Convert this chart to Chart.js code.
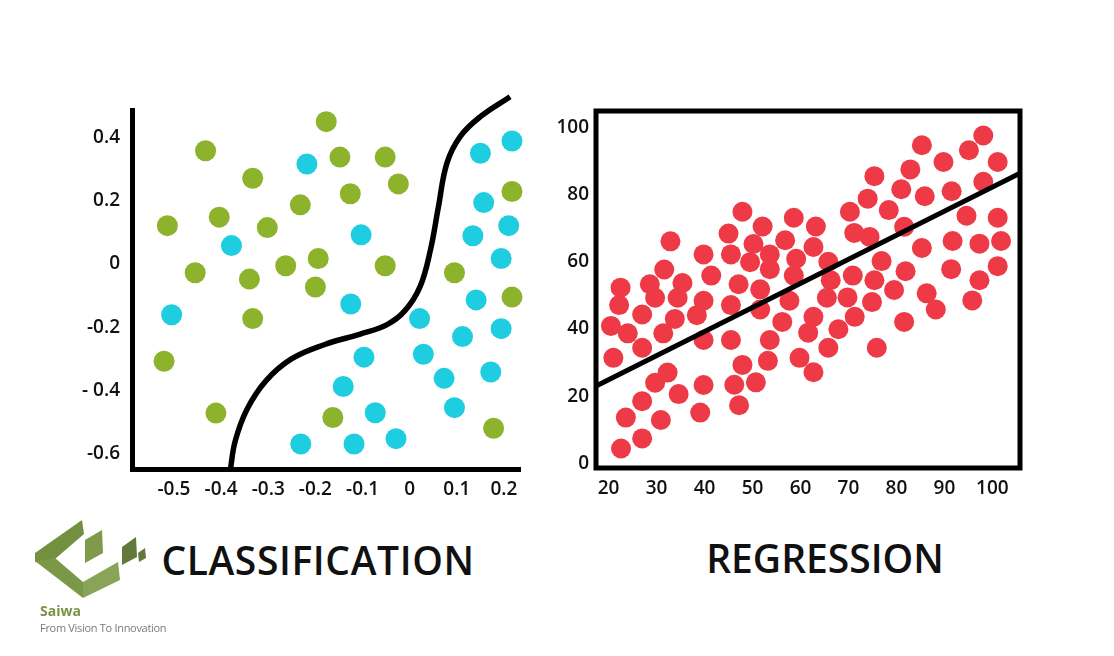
<!DOCTYPE html>
<html><head><meta charset="utf-8">
<script src="https://cdn.jsdelivr.net/npm/chart.js@4.4.1/dist/chart.umd.min.js"></script>
<style>
html,body{margin:0;padding:0;background:#fff;width:1114px;height:656px;overflow:hidden;font-family:'Open Sans',sans-serif;}
#c1{position:absolute;left:0;top:0;}
#c2{position:absolute;left:545px;top:0;}
.title{position:absolute;width:400px;text-align:center;font-size:39px;font-weight:600;line-height:39px;color:#111;white-space:nowrap;}
#logo{position:absolute;left:0;top:500px;}
#brand{position:absolute;left:40px;top:603px;font-size:14px;font-weight:700;color:#7b9444;line-height:16px;}
#tag{position:absolute;left:40px;top:621px;font-size:11px;font-weight:400;color:#7a7a7a;line-height:13px;letter-spacing:-0.3px;}
</style></head><body>
<canvas id="c1" width="545" height="520"></canvas>
<canvas id="c2" width="569" height="520"></canvas>
<div class="title" style="left:118px;top:540px;letter-spacing:0.6px;">CLASSIFICATION</div>
<div class="title" style="left:625px;top:538px;">REGRESSION</div>
<svg id="logo" width="160" height="100" viewBox="0 500 160 100">
  <polygon points="35,553 82,520 84,534 55,559 35,562" fill="#738f40"/>
  <polygon points="35,561 55,558 83,582 83,598" fill="#7b9748"/>
  <polygon points="83,582 118,562 120,580 83,598" fill="#89a357"/>
  <polygon points="85,540 102,530 103,553 85,563" fill="#7e9a4a"/>
  <polygon points="122,547 136,537 137,557 122,565" fill="#63793a"/>
  <polygon points="138,553 145,548 146,558 139,562" fill="#63793a"/>
</svg>
<div id="brand">Saiwa</div>
<div id="tag">From Vision To Innovation</div>
<script>
// ---------- Classification data ----------
const clsGreenX = [-0.177,-0.433,-0.333,-0.148,-0.052,-0.024,-0.126,-0.232,-0.514,-0.404,-0.302,-0.455,-0.340,-0.263,-0.194,-0.200,-0.052,-0.333,-0.521,-0.411,-0.163,0.095,0.217,0.217,0.178];
const clsGreenY = [0.450,0.358,0.271,0.338,0.338,0.253,0.222,0.187,0.121,0.148,0.115,-0.028,-0.048,-0.006,0.017,-0.073,-0.006,-0.173,-0.308,-0.472,-0.486,-0.028,0.229,-0.105,-0.520];
const clsCyanX = [-0.218,-0.378,-0.103,-0.505,-0.125,0.150,0.217,0.157,0.210,0.134,0.194,0.141,0.021,0.194,0.112,-0.097,0.029,0.073,0.172,-0.141,-0.073,0.095,-0.231,-0.118,-0.029];
const clsCyanY = [0.316,0.058,0.092,-0.161,-0.127,0.350,0.389,0.194,0.121,0.089,0.017,-0.114,-0.173,-0.205,-0.230,-0.295,-0.286,-0.362,-0.342,-0.388,-0.471,-0.455,-0.570,-0.570,-0.553];
const boundaryX = [-0.380,-0.370,-0.345,-0.305,-0.250,-0.180,-0.105,-0.048,-0.010,0.022,0.044,0.061,0.079,0.107,0.150,0.213];
const boundaryY = [-0.647,-0.560,-0.460,-0.370,-0.300,-0.255,-0.222,-0.192,-0.148,-0.072,0.044,0.181,0.319,0.403,0.466,0.529];
const clsXTicks = [-0.5,-0.4,-0.3,-0.2,-0.1,0,0.1,0.2];
const clsXTickLabels = ['-0.5','-0.4','-0.3','-0.2','-0.1','0','0.1','0.2'];
const clsYTicks = [-0.6,-0.4,-0.2,0,0.2,0.4];
const clsYTickLabels = ['-0.6','- 0.4','-0.2','0','0.2','0.4'];

// ---------- Regression data ----------
const regX = [20.5,21.0,22.2,22.5,24.0,23.6,22.6,27.0,27.0,27.0,27.0,28.6,29.7,29.7,30.9,31.6,31.4,32.3,32.9,33.8,34.4,34.6,35.4,38.4,39.1,39.8,39.8,39.8,39.8,41.4,45.0,45.5,45.5,45.5,46.2,47.1,47.2,47.9,47.9,49.5,50.2,50.7,51.6,51.6,52.1,53.6,53.6,53.6,53.2,56.2,56.8,57.7,58.6,59.1,58.6,59.8,61.6,62.7,63.2,62.7,62.7,65.8,66.3,65.5,65.8,67.9,70.3,71.2,70.9,69.8,71.3,74.0,74.4,75.4,75.4,74.9,75.9,76.9,78.4,79.5,81.0,81.6,81.9,81.6,82.9,85.3,85.3,85.9,86.3,88.2,89.8,91.5,91.7,91.4,94.6,95.1,95.8,97.3,97.3,98.1,98.1,101.1,101.1,101.8,101.1];
const regY = [40.9,31.4,47.1,52.3,38.7,13.6,4.4,44.3,34.4,18.5,7.4,53.3,49.3,24.0,12.9,57.7,38.7,27.0,66.1,43.0,49.3,20.6,53.7,44.1,15.1,62.2,48.4,36.7,23.3,55.9,68.4,62.2,47.1,36.7,23.4,53.3,17.3,74.9,29.3,59.9,65.3,24.1,51.8,45.8,70.5,62.2,57.8,36.7,30.5,42.1,66.4,48.4,73.1,60.9,55.9,31.4,38.9,64.4,70.5,43.6,27.1,60.0,54.5,49.3,34.4,39.9,74.9,68.6,55.9,49.4,43.6,78.8,67.4,85.5,54.5,48.0,34.4,60.2,75.4,51.6,81.6,70.4,57.2,42.1,87.5,94.7,64.1,79.5,50.6,45.8,89.7,81.0,66.2,57.8,73.7,93.2,48.5,65.4,54.5,97.6,83.8,89.7,73.1,66.2,58.7];
const regLineX = [17.4, 105.75];
const regLineY = [23.0, 86.4];
const regXTicks = [20,30,40,50,60,70,80,90,100];
const regYTicks = [0,20,40,60,80,100];

const zip = (xs, ys) => xs.map((x, i) => ({x, y: ys[i]}));
const tickFont = {family: "'Open Sans', sans-serif", size: 19, weight: '600'};
const INK = '#111';

function baseScale(extra) {
  return Object.assign({
    type: 'linear',
    grid: {display: false, drawTicks: false, tickLength: 0},
  }, extra);
}

// ---------- Classification chart ----------
new Chart(document.getElementById('c1'), {
  type: 'scatter',
  data: {
    datasets: [
      {type: 'line', data: zip(boundaryX, boundaryY), borderColor: '#000', borderWidth: 5.5, pointRadius: 0,
       tension: 0.4, fill: false, clip: false, order: 0},
      {data: zip(clsGreenX, clsGreenY), backgroundColor: '#8db22c', borderWidth: 0, pointRadius: 10.5, clip: false, order: 1},
      {data: zip(clsCyanX, clsCyanY), backgroundColor: '#1fcde1', borderWidth: 0, pointRadius: 10.5, clip: false, order: 1}
    ]
  },
  options: {
    responsive: false, animation: false, events: [],
    layout: {padding: {left: 0, top: 110, right: 25, bottom: 0}},
    plugins: {legend: {display: false}, tooltip: {enabled: false}},
    scales: {
      x: baseScale({
        position: 'bottom', min: -0.589, max: 0.234,
        border: {display: true, color: '#000', width: 5},
        afterBuildTicks: s => { s.ticks = clsXTicks.map(v => ({value: v})); },
        afterFit: s => { s.height = 51; },
        ticks: {color: INK, font: tickFont, padding: 9, maxRotation: 0, autoSkip: false,
                callback: (v, i) => clsXTickLabels[i]}
      }),
      y: baseScale({
        position: 'left', min: -0.649, max: 0.487,
        border: {display: true, color: '#000', width: 5},
        afterBuildTicks: s => { s.ticks = clsYTicks.map(v => ({value: v})); },
        afterFit: s => { s.width = 132; },
        ticks: {color: INK, font: tickFont, padding: 12, autoSkip: false,
                callback: (v, i) => clsYTickLabels[i]}
      })
    }
  }
});

// ---------- Regression chart ----------
const frame = {
  id: 'frame',
  afterDraw(chart) {
    const {ctx, chartArea: a} = chart;
    ctx.save();
    ctx.strokeStyle = '#000';
    ctx.lineWidth = 5;
    ctx.strokeRect(a.left, a.top, a.right - a.left, a.bottom - a.top);
    ctx.restore();
  }
};
new Chart(document.getElementById('c2'), {
  type: 'scatter',
  data: {
    datasets: [
      {type: 'line', data: zip(regLineX, regLineY), borderColor: '#000', borderWidth: 5, pointRadius: 0, fill: false, order: 0},
      {data: zip(regX, regY), backgroundColor: '#ee3a46', borderWidth: 0, pointRadius: 10, clip: false, order: 1}
    ]
  },
  options: {
    responsive: false, animation: false, events: [],
    layout: {padding: {left: 0, top: 111, right: 94, bottom: 0}},
    plugins: {legend: {display: false}, tooltip: {enabled: false}},
    scales: {
      x: baseScale({
        position: 'bottom', min: 17.38, max: 105.75,
        border: {display: false},
        afterBuildTicks: s => { s.ticks = regXTicks.map(v => ({value: v})); },
        afterFit: s => { s.height = 52; },
        ticks: {color: INK, font: tickFont, padding: 9, maxRotation: 0, autoSkip: false,
                callback: v => String(v)}
      }),
      y: baseScale({
        position: 'left', min: -1.4, max: 104.9,
        border: {display: false},
        afterBuildTicks: s => { s.ticks = regYTicks.map(v => ({value: v})); },
        afterFit: s => { s.width = 51; },
        ticks: {color: INK, font: tickFont, padding: 7, autoSkip: false,
                callback: v => String(v)}
      })
    }
  },
  plugins: [frame]
});
</script>
</body></html>
